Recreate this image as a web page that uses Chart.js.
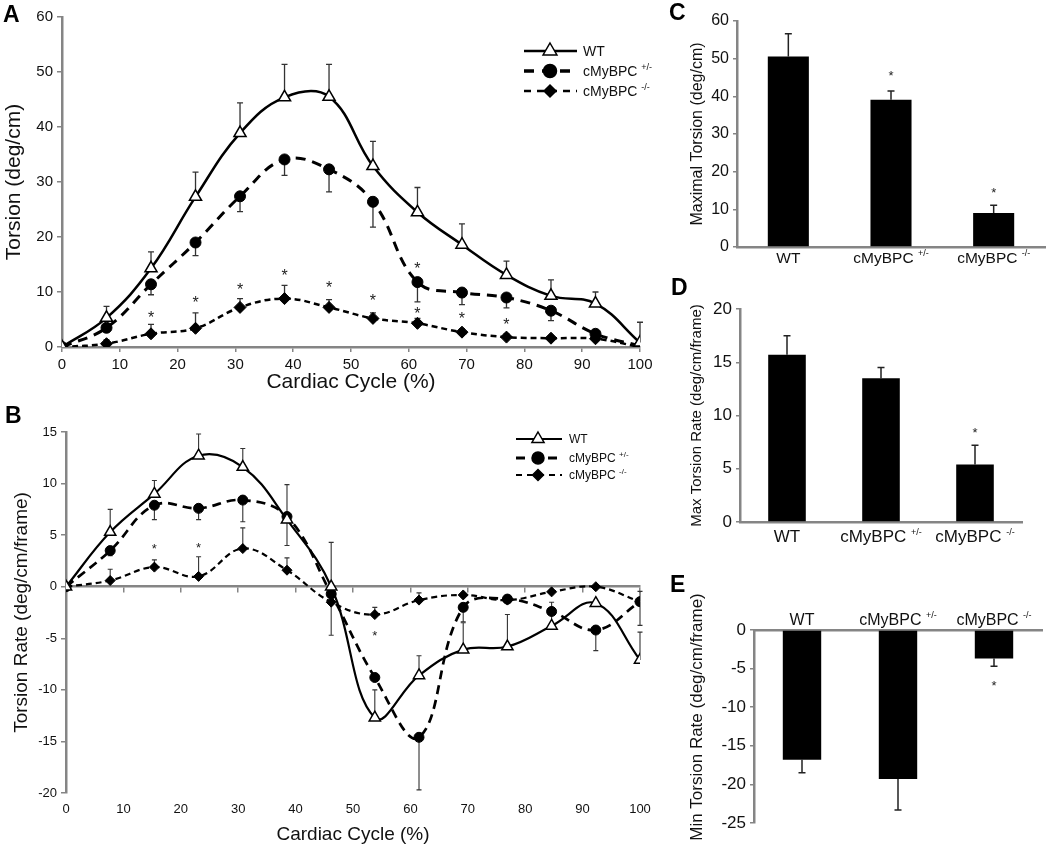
<!DOCTYPE html>
<html><head><meta charset="utf-8">
<script src="https://cdn.jsdelivr.net/npm/chart.js@4.4.0/dist/chart.umd.min.js"></script>
<style>
body{margin:0;background:#fff;width:1050px;height:847px;position:relative;overflow:hidden;font-family:"Liberation Sans",Arial,sans-serif}
canvas{position:absolute;display:block}
.lt{position:absolute;font-weight:bold;line-height:1;color:#000;font-family:"Liberation Sans",Arial,sans-serif}
</style></head><body>
<canvas id="cA" width="660" height="400" style="left:0;top:0"></canvas>
<canvas id="cB" width="660" height="447" style="left:0;top:400px"></canvas>
<canvas id="cC" width="400" height="280" style="left:650px;top:0"></canvas>
<canvas id="cD" width="400" height="280" style="left:650px;top:280px"></canvas>
<canvas id="cE" width="400" height="287" style="left:650px;top:560px"></canvas>
<div class="lt" style="left:3px;top:3px;font-size:23px">A</div>
<div class="lt" style="left:5px;top:404px;font-size:23px">B</div>
<div class="lt" style="left:669px;top:1px;font-size:23px">C</div>
<div class="lt" style="left:671px;top:276px;font-size:23px">D</div>
<div class="lt" style="left:670px;top:573px;font-size:23px">E</div>
<script>
// ---------- data ----------
const cycle = [0, 7.7, 15.4, 23.1, 30.8, 38.5, 46.2, 53.8, 61.5, 69.2, 76.9, 84.6, 92.3, 100];
const groupNames = ['WT', 'cMyBPC ', 'cMyBPC '];
const groupSups = ['', '+/-', '-/-'];

// Panel A: torsion (deg/cm)
const torsionWT     = [0, 5.3, 14.3, 27.3, 38.9, 45.4, 45.5, 32.9, 24.5, 18.6, 13.1, 9.3, 7.9, 0.8];
const torsionWTErr  = [0, 2.1, 3.0, 4.5, 5.5, 6.0, 5.9, 4.5, 4.5, 3.8, 2.5, 2.9, 2.1, 3.7];
const torsionHet    = [0, 3.5, 11.4, 19.0, 27.4, 34.1, 32.3, 26.4, 11.8, 9.9, 9.0, 6.6, 2.4, 0.2];
const torsionHetErr = [0, -0.4, -1.9, -2.4, -2.8, -2.9, -4.1, -4.6, -3.6, -2.2, -1.9, -1.8, 0, 0];
const torsionKO     = [0, 0.6, 2.4, 3.4, 7.2, 8.8, 7.2, 5.2, 4.3, 2.7, 1.8, 1.6, 1.5, 0];
const torsionKOErr  = [0, 0.7, 1.7, 2.8, 1.6, 2.4, 1.4, 1.0, 0.9, 0.6, 0.6, 0.4, 0.3, 0];
const torsionStarX  = [15.4, 23.1, 30.8, 38.5, 46.2, 53.8, 61.5, 61.5, 69.2, 76.9];
const torsionStarY  = [6.1, 8.8, 11.2, 13.6, 11.4, 9.2, 15.0, 6.7, 5.9, 4.8];

// Panel B: torsion rate (deg/cm/frame)
const rateWT     = [0, 5.3, 9.0, 12.7, 11.6, 6.5, 0, -12.7, -8.6, -6.1, -5.8, -3.8, -1.6, -7.1];
const rateWTErr  = [0, 2.2, 1.3, 2.1, 1.8, 3.4, 4.3, 2.7, 1.9, 2.6, 3.1, 2.3, 0, 2.7];
const rateHet    = [0, 3.5, 7.9, 7.6, 8.4, 6.8, -0.7, -8.8, -14.6, -2.0, -1.2, -2.4, -4.2, -1.45];
const rateHetErr = [0, -0.5, -1.4, -1.1, -2.1, -2.8, 0, 0, -5.1, -1.4, 0, 0, -2.0, 1.0];
const rateKO     = [0, 0.6, 1.9, 1.0, 3.7, 1.6, -1.5, -2.7, -1.3, -0.8, -1.3, -0.5, 0, -1.45];
const rateKOErr  = [0, 1.1, 0.7, 1.9, 2.0, 1.2, -3.2, 0.7, 0.7, 0, 0, 0, 0, -2.3];
const rateStarX  = [15.4, 23.1, 53.8];
const rateStarY  = [4.0, 4.1, -4.4];

// Panels C, D, E
const maxTorsion      = [50.6, 39.1, 9.0];
const maxTorsionErr   = [6.0, 2.3, 2.1];
const maxTorsionStarX = [1, 2];
const maxTorsionStarY = [46.2, 15.2];
const maxRate         = [15.7, 13.5, 5.4];
const maxRateErr      = [1.8, 1.0, 1.8];
const maxRateStarX    = [2];
const maxRateStarY    = [8.7];
const minRate         = [-16.8, -19.3, -3.7];
const minRateErr      = [-1.7, -4.0, -1.0];
const minRateStarX    = [2];
const minRateStarY    = [-6.8];

// ---------- helpers ----------
const GRAY = '#858585';
const NARROW = "'Liberation Sans Narrow','Arial Narrow','Liberation Sans',Arial,sans-serif";
const SANS = "'Liberation Sans',Arial,sans-serif";
Chart.defaults.font.family = SANS;
Chart.defaults.color = '#111';
Chart.defaults.animation = false;

function pts(xs, ys) { return xs.map((x, i) => ({x: x, y: ys[i]})); }

function marker(ctx, style, x, y, r, lw) {
  ctx.save();
  ctx.setLineDash([]);
  ctx.lineWidth = lw || 1.5;
  ctx.strokeStyle = '#000';
  ctx.beginPath();
  if (style === 'triangle') {
    ctx.fillStyle = '#fff';
    ctx.moveTo(x, y - r);
    ctx.lineTo(x + r * 0.866, y + r / 2);
    ctx.lineTo(x - r * 0.866, y + r / 2);
    ctx.closePath();
  } else if (style === 'circle') {
    ctx.fillStyle = '#000';
    ctx.arc(x, y, r, 0, Math.PI * 2);
  } else {
    ctx.fillStyle = '#000';
    ctx.moveTo(x, y - r); ctx.lineTo(x + r, y); ctx.lineTo(x, y + r); ctx.lineTo(x - r, y);
    ctx.closePath();
  }
  ctx.fill(); ctx.stroke();
  ctx.restore();
}

function rich(ctx, x, y, base, sup, size, supSize, align, family) {
  family = family || SANS;
  ctx.font = size + 'px ' + family;
  const w1 = ctx.measureText(base).width;
  ctx.font = supSize + 'px ' + family;
  const w2 = sup ? ctx.measureText(sup).width : 0;
  const sx = align === 'center' ? x - (w1 + w2) / 2 : x;
  ctx.textAlign = 'left'; ctx.textBaseline = 'alphabetic'; ctx.fillStyle = '#111';
  ctx.font = size + 'px ' + family;
  ctx.fillText(base, sx, y);
  if (sup) { ctx.font = supSize + 'px ' + family; ctx.fillText(sup, sx + w1, y - size * 0.42); }
}

const overlay = {
  id: 'overlay',
  beforeDatasetsDraw(chart, args, o) {
    const ctx = chart.ctx;
    (o.err || []).forEach(e => {
      const meta = chart.getDatasetMeta(e.ds);
      const ys = chart.scales[meta.yAxisID];
      ctx.save();
      ctx.strokeStyle = o.errColor || '#333';
      ctx.lineWidth = o.errWidth || 1.3;
      e.vals.forEach((d, i) => {
        if (!d) return;
        const raw = chart.data.datasets[e.ds].data[i];
        const v = (typeof raw === 'object') ? raw.y : raw;
        const x = meta.data[i].x;
        const y0 = ys.getPixelForValue(v), y1 = ys.getPixelForValue(v + d);
        ctx.beginPath();
        ctx.moveTo(x, y0); ctx.lineTo(x, y1);
        ctx.moveTo(x - o.cap, y1); ctx.lineTo(x + o.cap, y1);
        ctx.stroke();
      });
      ctx.restore();
    });
  },
  afterDraw(chart, args, o) {
    const ctx = chart.ctx;
    const xs = chart.scales.x, ys = chart.scales.y;
    if (o.stars) {
      ctx.save();
      ctx.fillStyle = '#222';
      ctx.font = o.stars.size + 'px ' + SANS;
      ctx.textAlign = 'center'; ctx.textBaseline = 'alphabetic';
      o.stars.x.forEach((xv, i) => {
        const px = xs.getPixelForValue(xv), py = ys.getPixelForValue(o.stars.y[i]);
        ctx.fillText('*', px, py + o.stars.size * 0.57);
      });
      ctx.restore();
    }
    if (o.cats) {
      ctx.save();
      const c = o.cats;
      const by = c.side === 'top' ? chart.chartArea.top - c.off : chart.chartArea.bottom + c.off;
      groupNames.forEach((n, i) => {
        rich(ctx, xs.getPixelForValue(i), by, n, groupSups[i], c.size, c.supSize, 'center');
      });
      ctx.restore();
    }
    if (o.ytitle) {
      const t = o.ytitle;
      ctx.save();
      ctx.translate(t.x, t.y);
      ctx.rotate(-Math.PI / 2);
      ctx.font = t.size + 'px ' + SANS;
      ctx.fillStyle = '#111';
      ctx.textAlign = 'center'; ctx.textBaseline = 'middle';
      ctx.fillText(t.text, 0, 0);
      ctx.restore();
    }
    if (o.legend) {
      const L = o.legend;
      L.items.forEach(it => {
        ctx.save();
        ctx.strokeStyle = '#000'; ctx.lineWidth = it.lw; ctx.setLineDash(it.dash);
        ctx.lineDashOffset = it.dashOff || 0;
        ctx.beginPath(); ctx.moveTo(L.x0, it.y); ctx.lineTo(L.x1, it.y); ctx.stroke();
        ctx.restore();
        marker(ctx, it.style, L.xm, it.y, it.r, 1.5);
        ctx.save();
        rich(ctx, L.xt, it.y + L.size * 0.36, it.name, it.sup, L.size, L.supSize, 'left');
        ctx.restore();
      });
    }
  }
};
Chart.register(overlay);

function axisY(opts) {
  return Object.assign({
    grid: {display: true, drawOnChartArea: false, drawTicks: true, tickLength: 5, color: GRAY, lineWidth: 1.5},
    border: {display: true, color: GRAY, width: 2.5},
  }, opts);
}

function lineDatasets(wt, het, ko, sz) {
  return [
    {label: 'WT', data: pts(cycle, wt), borderColor: '#000', borderWidth: sz.lw, tension: 0.4,
     pointStyle: 'triangle', pointRadius: sz.tri, pointBackgroundColor: '#fff', pointBorderColor: '#000', pointBorderWidth: 1.5},
    {label: 'cMyBPC +/-', data: pts(cycle, het), borderColor: '#000', borderWidth: sz.lw + 0.5, borderDash: sz.dashHet, tension: 0.4,
     pointStyle: 'circle', pointRadius: sz.cir, pointBackgroundColor: '#000', pointBorderColor: '#000', pointBorderWidth: 1},
    {label: 'cMyBPC -/-', data: pts(cycle, ko), borderColor: '#000', borderWidth: sz.lw, borderDash: sz.dashKO, tension: 0.4,
     pointStyle: 'rectRot', pointRadius: sz.dia, pointBackgroundColor: '#000', pointBorderColor: '#000', pointBorderWidth: 1}
  ];
}

// ---------- Panel A ----------
new Chart(document.getElementById('cA'), {
  type: 'line',
  data: {datasets: lineDatasets(torsionWT, torsionHet, torsionKO, {lw: 2.5, tri: 7, cir: 5.5, dia: 6, dashHet: [10, 7], dashKO: [6, 4]})},
  options: {
    responsive: false,
    layout: {padding: {top: 17, right: 20, left: 0, bottom: 0}},
    plugins: {
      legend: {display: false}, tooltip: {enabled: false},
      overlay: {
        cap: 3,
        err: [{ds: 0, vals: torsionWTErr}, {ds: 1, vals: torsionHetErr}, {ds: 2, vals: torsionKOErr}],
        stars: {x: torsionStarX, y: torsionStarY, size: 16},
        legend: {x0: 524, x1: 577, xm: 550, xt: 583, size: 14, supSize: 9, items: [
          {y: 51, name: 'WT', sup: '', dash: [], lw: 2.5, style: 'triangle', r: 8},
          {y: 71, name: 'cMyBPC ', sup: '+/-', dash: [10, 8], dashOff: 0, lw: 3.5, style: 'circle', r: 6.5},
          {y: 91, name: 'cMyBPC ', sup: '-/-', dash: [7, 6], lw: 2.5, style: 'diamond', r: 6}
        ]}
      }
    },
    scales: {
      x: axisY({type: 'linear', min: 0, max: 100,
        ticks: {stepSize: 10, font: {size: 15, family: NARROW}, padding: 4, color: '#111'},
        title: {display: true, text: 'Cardiac Cycle (%)', font: {size: 21}, padding: {bottom: 5, top: 0}, color: '#111'},
        afterFit: s => { s.height = 53; }}),
      y: axisY({min: 0, max: 60,
        ticks: {stepSize: 10, font: {size: 15, family: NARROW}, padding: 4, color: '#111'},
        title: {display: true, text: 'Torsion (deg/cm)', font: {size: 21}, padding: {top: 2, bottom: 0}, color: '#111'},
        afterFit: s => { s.width = 62; }})
    }
  }
});

// ---------- Panel B ----------
new Chart(document.getElementById('cB'), {
  type: 'line',
  data: {datasets: lineDatasets(rateWT, rateHet, rateKO, {lw: 2.2, tri: 6.5, cir: 5, dia: 5, dashHet: [9, 6], dashKO: [6, 4]})},
  options: {
    responsive: false,
    layout: {padding: {top: 32, right: 20, left: 0, bottom: 0}},
    plugins: {
      legend: {display: false}, tooltip: {enabled: false},
      overlay: {
        cap: 2.5, errWidth: 1.1,
        err: [{ds: 0, vals: rateWTErr}, {ds: 1, vals: rateHetErr}, {ds: 2, vals: rateKOErr}],
        stars: {x: rateStarX, y: rateStarY, size: 13},
        legend: {x0: 516, x1: 562, xm: 538, xt: 569, size: 12, supSize: 8, items: [
          {y: 39, name: 'WT', sup: '', dash: [], lw: 2, style: 'triangle', r: 7},
          {y: 58, name: 'cMyBPC ', sup: '+/-', dash: [9, 7], lw: 3, style: 'circle', r: 6},
          {y: 75, name: 'cMyBPC ', sup: '-/-', dash: [6, 5], lw: 2.2, style: 'diamond', r: 5.5}
        ]}
      }
    },
    scales: {
      x: {type: 'linear', min: 0, max: 100, position: 'bottom',
        grid: {display: false, drawTicks: false}, border: {display: false},
        ticks: {stepSize: 10, font: {size: 13, family: NARROW}, padding: 9, color: '#111'},
        title: {display: true, text: 'Cardiac Cycle (%)', font: {size: 19}, padding: {bottom: 1, top: 0}, color: '#111'},
        afterFit: s => { s.height = 54; }},
      x2: {type: 'linear', axis: 'x', min: 0, max: 100, position: {y: 0},
        grid: {display: true, drawOnChartArea: false, drawTicks: true, tickLength: 5, color: GRAY, lineWidth: 1.5},
        border: {display: true, color: GRAY, width: 2.5},
        ticks: {stepSize: 10, display: false}},
      y: axisY({min: -20, max: 15,
        ticks: {stepSize: 5, font: {size: 13, family: NARROW}, padding: 4, color: '#111'},
        title: {display: true, text: 'Torsion Rate (deg/cm/frame)', font: {size: 19}, padding: {top: 10, bottom: 0}, color: '#111'},
        afterFit: s => { s.width = 66; }})
    }
  }
});

// ---------- Bar panels ----------
function barChart(id, vals, errs, sx, sy, cfg) {
  return new Chart(document.getElementById(id), {
    type: 'bar',
    data: {labels: groupNames.map((n, i) => n + groupSups[i]),
      datasets: [{data: vals, backgroundColor: '#000', borderWidth: 0, barPercentage: 0.4, categoryPercentage: 1}]},
    options: {
      responsive: false,
      layout: {padding: cfg.pad},
      plugins: {
        legend: {display: false}, tooltip: {enabled: false},
        overlay: {cap: 3.5, errWidth: 1.5, errColor: '#222', err: [{ds: 0, vals: errs}],
          stars: {x: sx, y: sy, size: 13},
          cats: {side: cfg.side, off: cfg.catOff, size: cfg.catSize, supSize: 9},
          ytitle: cfg.ytitle || null}
      },
      scales: {
        x: {position: cfg.side, grid: {display: false}, border: {display: true, color: GRAY, width: 2.5},
          ticks: {display: false}, afterFit: s => { s.height = cfg.xh; }},
        y: axisY({min: cfg.min, max: cfg.max,
          grid: {display: true, drawOnChartArea: false, drawTicks: true, tickLength: 4, color: GRAY, lineWidth: 1.5},
          ticks: {stepSize: cfg.step, font: {size: cfg.tickSize, family: NARROW}, padding: 4, color: '#111'},
          title: {display: !cfg.ytitle, text: cfg.title, font: {size: cfg.titleSize}, padding: {top: cfg.titlePad, bottom: 0}, color: '#111'},
          afterFit: s => { s.width = cfg.yw; }})
      }
    }
  });
}

barChart('cC', maxTorsion, maxTorsionErr, maxTorsionStarX, maxTorsionStarY,
  {pad: {top: 21, left: 30, right: 5, bottom: 0}, side: 'bottom', catOff: 16, catSize: 15.5, xh: 33,
   min: 0, max: 60, step: 10, tickSize: 16, title: 'Maximal Torsion (deg/cm)', titleSize: 16, titlePad: 8, yw: 57});
barChart('cD', maxRate, maxRateErr, maxRateStarX, maxRateStarY,
  {pad: {top: 29, left: 30, right: 28, bottom: 0}, side: 'bottom', catOff: 20, catSize: 17, xh: 38,
   min: 0, max: 20, step: 5, tickSize: 17, title: 'Max Torsion Rate (deg/cm/frame)', titleSize: 15, titlePad: 8, yw: 60});
barChart('cE', minRate, minRateErr, minRateStarX, minRateStarY,
  {pad: {top: 70, left: 30, right: 8, bottom: 24}, side: 'top', catOff: 5, catSize: 16, xh: 0,
   min: -25, max: 0, step: 5, tickSize: 17, title: 'Min Torsion Rate (deg/cm/frame)', titleSize: 17, titlePad: 7, yw: 74,
   ytitle: {text: 'Min Torsion Rate (deg/cm/frame)', x: 47, y: 157, size: 17}});
</script>
</body></html>
